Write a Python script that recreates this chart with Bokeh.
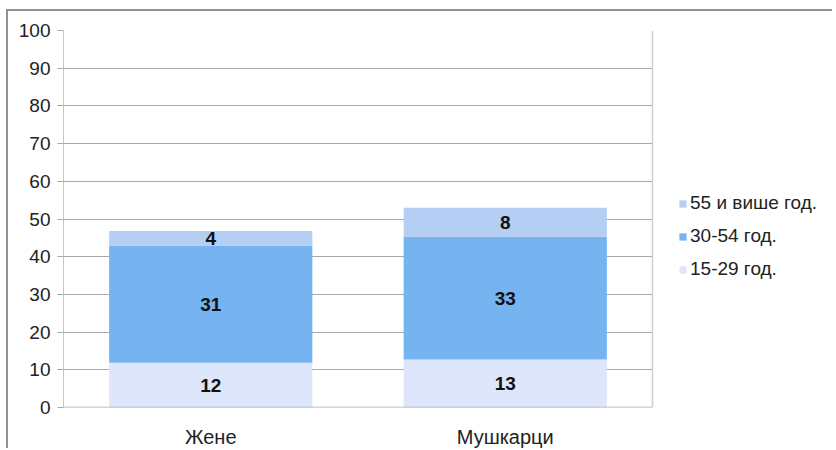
from bokeh.plotting import figure
from bokeh.models import (ColumnDataSource, Legend, LegendItem, LabelSet, Range1d,
                          FixedTicker, BoxAnnotation, Span)
from bokeh.embed import file_html
from bokeh.resources import INLINE
from bokeh.core.properties import value

categories = ["Жене", "Мушкарци"]
age_15_29 = [11.9, 12.7]
age_30_54 = [31.1, 32.6]
age_55_plus = [3.8, 7.7]
series_names = ["15-29 год.", "30-54 год.", "55 и више год."]
y_ticks = [0, 10, 20, 30, 40, 50, 60, 70, 80, 90, 100]

colors = ["#dde6fa", "#75b3f1", "#b4cef4"]
FONT = "Liberation Sans"

W, H = 826, 439
BL, BR, BT, BB = 55, 2, 19, 42
frame_w = W - BL - BR
plot_w = 589  # width of the category area in px
n = len(categories)
xpos = [i + 0.5 for i in range(n)]

src = ColumnDataSource(dict(x=xpos, a=age_15_29, b=age_30_54, c=age_55_plus))

p = figure(x_range=Range1d(0, n * frame_w / plot_w), y_range=Range1d(0, 100),
           width=W, height=H, output_backend="svg", toolbar_location=None,
           min_border_left=BL, min_border_right=BR, min_border_top=BT, min_border_bottom=BB)
p.styles = {"border-top": "2px solid #8a9596", "border-left": "2px solid #8a9596",
            "margin-left": "6px", "margin-top": "9px"}

renderers = p.vbar_stack(["a", "b", "c"], x="x", width=0.69, source=src,
                         fill_color=colors, line_color=None)

# category axis baseline, drawn over the bar bottoms
p.segment(x0=[0], x1=[n], y0=[y_ticks[0]], y1=[y_ticks[0]], line_color="#a3abab", line_width=1.5)

# mask grid beyond the category area, and draw the plot-area right border
p.add_layout(BoxAnnotation(left=n, fill_color="white", fill_alpha=1, line_color=None, level="guide"))
p.add_layout(Span(location=n, dimension="height", line_color="#c8d0d0", line_width=1.5))

lab_x, lab_y, lab_t = [], [], []
for i in range(n):
    base = 0.0
    for vals in (age_15_29, age_30_54, age_55_plus):
        v = vals[i]
        lab_x.append(xpos[i])
        lab_y.append(base + v / 2)
        lab_t.append(str(int(round(v))))
        base += v
lab_src = ColumnDataSource(dict(x=lab_x, y=lab_y, t=lab_t))
p.add_layout(LabelSet(x="x", y="y", text="t", source=lab_src, text_align="center",
                      text_baseline="middle", text_font=value(FONT), text_font_size="19px",
                      text_font_style="bold", text_color="#111111"))

items = [LegendItem(label=series_names[i], renderers=[renderers[i]]) for i in (2, 1, 0)]
legend = Legend(items=items, location=(plot_w + 26, 127),
                label_text_font=FONT, label_text_font_size="19px", label_text_color="#222222",
                glyph_width=9, glyph_height=9, spacing=11, padding=0, margin=0,
                background_fill_alpha=0, border_line_color=None, label_standoff=3)
p.add_layout(legend, "center")

p.xgrid.grid_line_color = None
p.ygrid.grid_line_color = "#a3abab"
p.yaxis.ticker = y_ticks
p.yaxis.axis_line_color = "#c0c8c8"
p.yaxis.major_tick_line_color = "#a3abab"
p.yaxis.major_tick_out = 6
p.yaxis.major_tick_in = 0
p.yaxis.minor_tick_line_color = None
p.yaxis.major_label_text_font = FONT
p.yaxis.major_label_text_font_size = "19px"
p.yaxis.major_label_text_color = "#222222"
p.yaxis.major_label_standoff = 7

p.xaxis.ticker = FixedTicker(ticks=xpos)
p.xaxis.major_label_overrides = {x: c for x, c in zip(xpos, categories)}
p.xaxis.axis_line_color = None
p.xaxis.major_tick_line_color = None
p.xaxis.minor_tick_line_color = None
p.xaxis.major_label_text_font = FONT
p.xaxis.major_label_text_font_size = "20px"
p.xaxis.major_label_text_color = "#222222"
p.xaxis.major_label_standoff = 12

p.outline_line_color = None
p.background_fill_color = "white"
p.border_fill_color = "white"

open("out.html", "w").write(file_html(p, INLINE))
